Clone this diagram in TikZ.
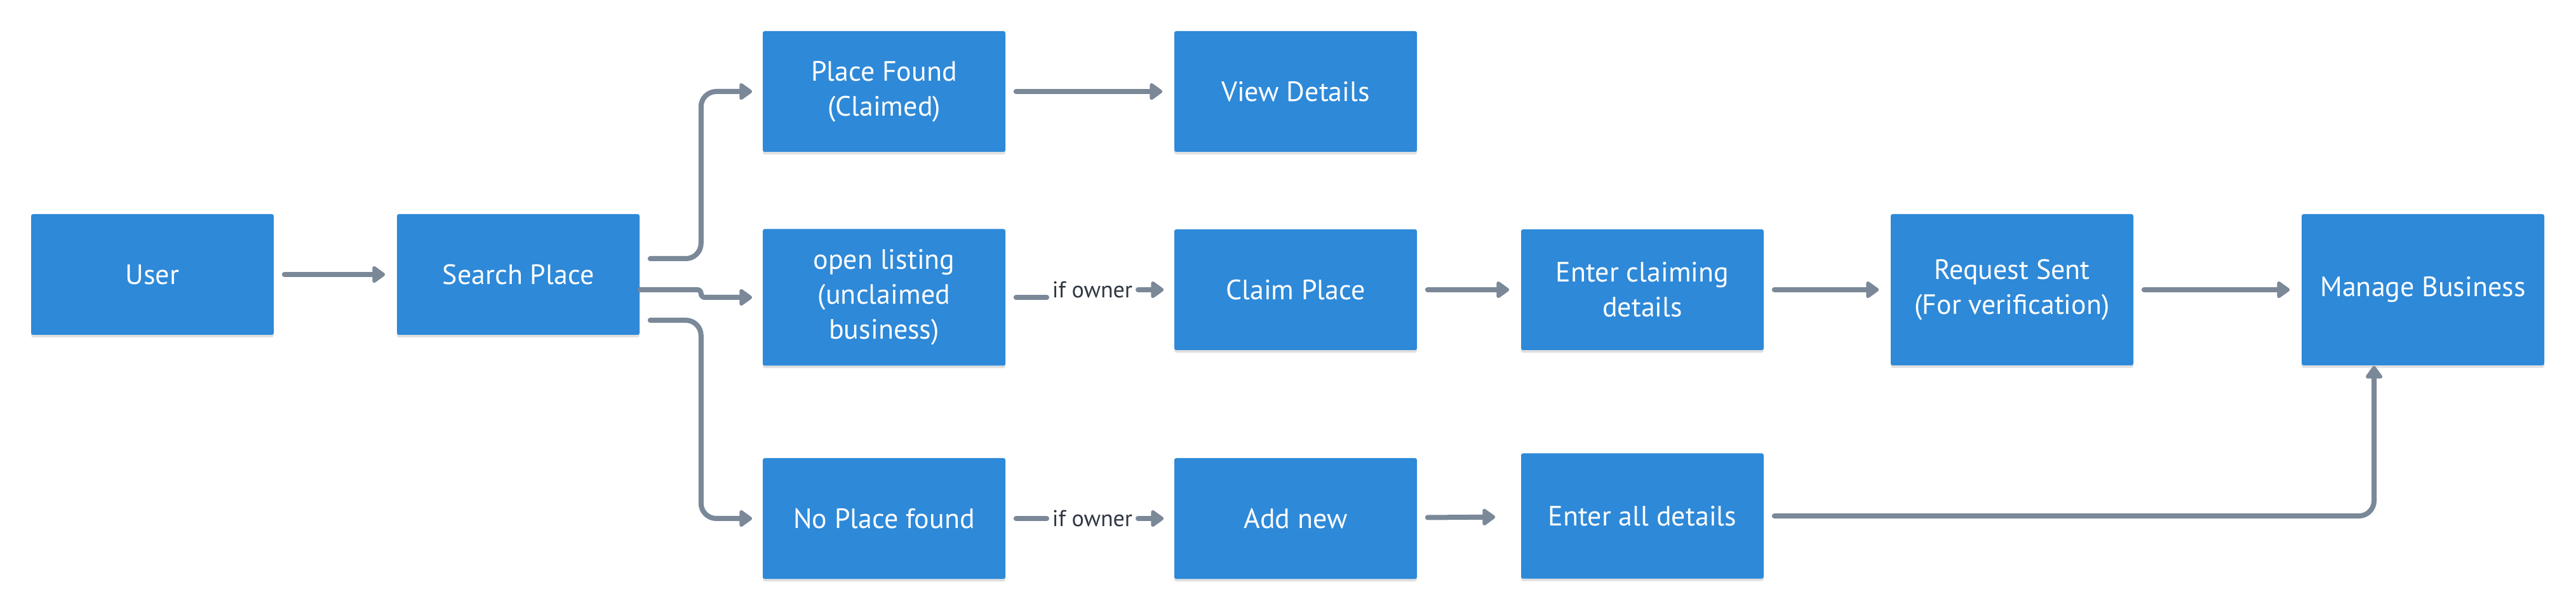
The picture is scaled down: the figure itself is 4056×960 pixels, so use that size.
\documentclass[tikz,border=0pt]{standalone}
\usepackage{fontspec}
\setmainfont{PT Sans}
\usetikzlibrary{arrows.meta, positioning, shadows}

\definecolor{boxblue}{HTML}{2E89D8}
\definecolor{linegray}{HTML}{7A8898}
\definecolor{labelgray}{HTML}{2F3742}

\begin{document}
\begin{tikzpicture}[x=0.25pt, y=-0.25pt,
	box/.style={rectangle, rounded corners=0.75pt, fill=boxblue, text=white, align=center,
		minimum width=95.5pt, minimum height=47.5pt, inner sep=0pt,
		font=\fontsize{11pt}{13.75pt}\selectfont,
		drop shadow={shadow xshift=0pt, shadow yshift=-1pt, opacity=0.12, fill=black}},
	link/.style={line width=2pt, color=linegray, line cap=round, rounded corners=6pt},
	tip/.style={-{Triangle[length=5.5pt,width=7.5pt,round]}},
	owner/.style={text=labelgray, inner sep=2pt, font=\fontsize{9pt}{10pt}\selectfont}]
	
	\useasboundingbox (0,0) rectangle (4056,960);
	
	%Boxen
	\node (user) [box] at (240,432) {User};
	\node (search) [box] at (816,432) {Search Place};
	\node (found) [box] at (1392,144) {Place Found\\(Claimed)};
	\node (open) [box, minimum height=53.75pt] at (1392,468) {open listing\\(unclaimed\\business)};
	\node (none) [box] at (1392,816) {No Place found};
	\node (view) [box] at (2040,144) {View Details};
	\node (claim) [box] at (2040,456) {Claim Place};
	\node (addnew) [box] at (2040,816) {Add new};
	\node (claimdet) [box] at (2586,456) {Enter claiming\\details};
	\node (alldet) [box, minimum height=49.25pt] at (2586,812) {Enter all details};
	\node (request) [box, minimum height=59.5pt] at (3168,456) {Request Sent\\(For verification)};
	\node (manage) [box, minimum height=59.5pt] at (3815,456) {Manage Business};
	
	\node (own1) [owner] at (1720,456) {if owner};
	\node (own2) [owner] at (1720,816) {if owner};
	
	%Pfeile
	\path[link, tip, shorten <=4pt, shorten >=4.5pt]
	(user) edge (search)
	(found) edge (view)
	(claim) edge (claimdet)
	(addnew) edge [shorten >=10pt] (alldet)
	(claimdet) edge (request)
	(request) edge (manage);
	
	\draw[link, tip, shorten <=4pt, shorten >=4pt] ([yshift=6.25pt]search.east) -- ([xshift=24pt,yshift=6.25pt]search.east) |- (found.west);
	\draw[link, tip, rounded corners=1.5pt, shorten >=4pt] ([yshift=-6pt]search.east) -- ([xshift=24pt,yshift=-6pt]search.east) |- (open.west);
	\draw[link, tip, shorten <=4pt, shorten >=4pt] ([yshift=-18pt]search.east) -- ([xshift=24pt,yshift=-18pt]search.east) |- (none.west);
	
	\draw[link, shorten <=4pt] (open.east) -- (open.east -| own1.west);
	\draw[link, tip, shorten >=4pt] (own1) -- (claim);
	\draw[link, shorten <=4pt] (none) -- (own2);
	\draw[link, tip, shorten >=4pt] (own2) -- (addnew);
	
	\draw[link, tip, shorten <=4pt] (alldet.east) -| ([xshift=-19.25pt]manage.south);
	
\end{tikzpicture}
\end{document}
